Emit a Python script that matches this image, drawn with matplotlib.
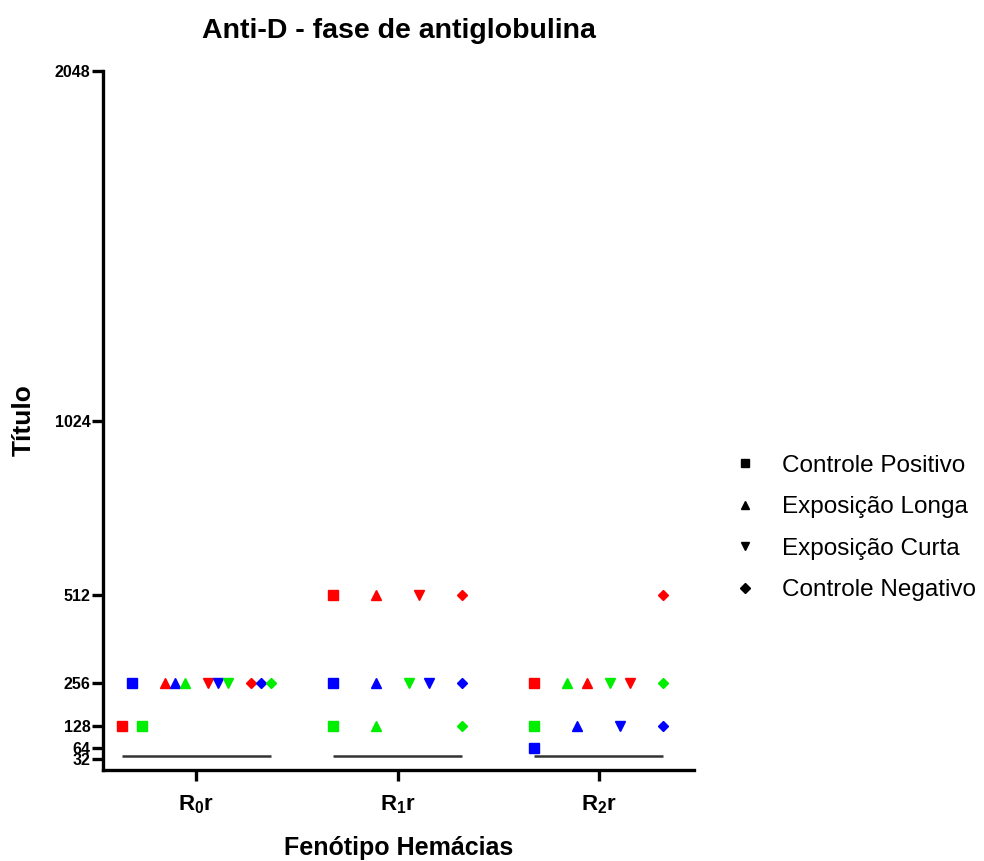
import numpy as np
import matplotlib
matplotlib.use("Agg")
import matplotlib.pyplot as plt

plt.rcParams['font.family'] = ['Liberation Sans', 'DejaVu Sans']
plt.rcParams['mathtext.fontset'] = 'custom'
plt.rcParams['mathtext.rm'] = 'Liberation Sans'
plt.rcParams['mathtext.bf'] = 'Liberation Sans:bold'

# ---- data ----
groups = [r"R$_\mathbf{0}$r", r"R$_\mathbf{1}$r", r"R$_\mathbf{2}$r"]
datasets = ["Controle Positivo", "Exposição Longa", "Exposição Curta", "Controle Negativo"]
replicate_colors = ["#FF0000", "#0000FF", "#00EE00"]  # red, blue, green replicates
# values[group] = [red, blue, green]
controle_positivo = [[128, 256, 128], [512, 256, 128], [256, 64, 128]]
exposicao_longa   = [[256, 256, 256], [512, 256, 128], [256, 128, 256]]
exposicao_curta   = [[256, 256, 256], [512, 256, 256], [256, 128, 256]]
controle_negativo = [[256, 256, 256], [512, 256, 128], [512, 128, 256]]
# order in which tied replicates are laid out left-to-right (indices into replicate colors)
tie_order = [[0, 1, 2], [2, 0, 1], [2, 0, 1]]
baseline_value = 42
yticks = [32, 64, 128, 256, 512, 1024, 2048]
markers = ["s", "^", "v", "D"]
marker_sizes = [7.5, 7.5, 7.5, 5.5]

all_values = [controle_positivo, exposicao_longa, exposicao_curta, controle_negativo]

fig = plt.figure(figsize=(9.84, 8.61), dpi=100)
ax = fig.add_axes([0.1047, 0.1057, 0.6006, 0.8118])

ds_step = 0.214
rep_half = 0.05

for gi in range(len(groups)):
    xs_group = []
    for di in range(len(datasets)):
        vals = all_values[di][gi]
        center = gi + (di - 1.5) * ds_step
        order = tie_order[gi]
        for v in sorted(set(vals)):
            idxs = [k for k in order if vals[k] == v]
            n = len(idxs)
            offs = np.linspace(-rep_half, rep_half, n) if n > 1 else [0.0]
            for off, k in zip(offs, idxs):
                x = center + off
                xs_group.append(x)
                ax.plot(x, v, marker=markers[di], color=replicate_colors[k],
                        markersize=marker_sizes[di], linestyle='none', zorder=3)
    ax.hlines(baseline_value, min(xs_group), max(xs_group), color='#333333', lw=1.8, zorder=2)

# legend handles (black)
for di in range(len(datasets)):
    ax.plot([], [], marker=markers[di], color='black', markersize=marker_sizes[di] * 0.85,
            linestyle='none', label=datasets[di])
leg = ax.legend(loc='center left', bbox_to_anchor=(1.037, 0.346), frameon=False,
                fontsize=17.5, handletextpad=1.0, labelspacing=0.8, handlelength=1.0,
                borderpad=0.2)

ax.set_xlim(-0.463, 2.473)
ax.set_ylim(0, 2048)
ax.set_yticks(yticks)
ax.set_yticklabels([str(t) for t in yticks], fontsize=11.5, fontweight='bold')
ax.set_xticks(range(len(groups)))
ax.set_xticklabels(groups, fontsize=16, fontweight='bold')

for s in ['top', 'right']:
    ax.spines[s].set_visible(False)
for s in ['left', 'bottom']:
    ax.spines[s].set_linewidth(2.4)
ax.tick_params(axis='both', width=2.4, length=8, direction='out')
ax.tick_params(axis='y', pad=1)
ax.tick_params(axis='x', pad=9)

ax.set_title("Anti-D - fase de antiglobulina", fontsize=20.5, fontweight='bold', pad=24)
ax.set_ylabel("Título", fontsize=19, fontweight='bold', labelpad=14)
ax.set_xlabel("Fenótipo Hemácias", fontsize=18, fontweight='bold', labelpad=14)

fig.savefig("out.png", dpi=100)
